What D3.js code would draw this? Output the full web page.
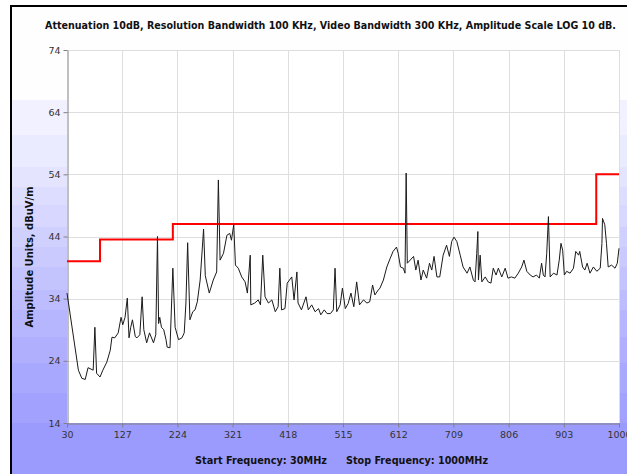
<!DOCTYPE html>
<html>
<head>
<meta charset="utf-8">
<script src="https://cdn.jsdelivr.net/npm/d3@7/dist/d3.min.js"></script>
<style>
  body { margin: 0; background: #fff; }
  svg { display: block; }
</style>
</head>
<body>
<svg id="chart" width="627" height="474"></svg>
<script>
var traceFreq = [30, 50, 56, 62, 67, 76, 79, 82, 88, 93, 100, 106, 109, 114, 120, 125, 128, 132, 136, 139,
  142, 145, 150, 153, 158, 162, 165, 170, 175, 182, 186, 189, 191, 193, 196, 200, 204, 206, 211, 216,
  220, 226, 232, 236, 239, 242, 246, 251, 255, 259, 264, 270, 273, 280, 287, 293, 296, 299, 305, 311,
  316, 319, 323, 326, 331, 337, 343, 347, 352, 353, 360, 366, 370, 374, 378, 384, 390, 396, 401, 404,
  407, 413, 417, 425, 429, 434, 436, 442, 450, 454, 460, 466, 472, 476, 482, 487, 493, 498, 501, 504,
  510, 514, 519, 524, 529, 534, 539, 544, 551, 557, 562, 567, 571, 577, 580, 586, 592, 598, 603, 609,
  612, 616, 621, 624, 626, 628, 633, 639, 643, 647, 652, 656, 662, 667, 671, 675, 680, 685, 691, 697,
  702, 706, 710, 715, 721, 726, 733, 738, 744, 747, 750, 752, 753, 756, 759, 765, 770, 775, 779, 784,
  788, 794, 800, 805, 811, 817, 823, 829, 833, 838, 844, 849, 855, 860, 864, 867, 870, 873, 876, 879,
  885, 891, 895, 898, 901, 904, 908, 914, 920, 924, 929, 931, 936, 940, 944, 949, 955, 961, 967, 970,
  971, 975, 978, 981, 987, 993, 997, 1000];
var traceLevel = [34.9, 22.5, 21.2, 21.0, 22.9, 22.5, 29.4, 22.0, 21.4, 22.5, 23.8, 25.7, 27.8, 27.7, 28.5, 31.0, 29.8, 31.0, 34.1, 27.7,
  29.4, 30.6, 27.9, 27.7, 28.2, 34.3, 29.0, 26.9, 28.5, 26.9, 28.2, 44.0, 30.0, 31.0, 29.4, 29.0, 27.4, 26.2, 26.1, 38.9,
  29.4, 27.4, 27.7, 28.5, 33.3, 43.0, 30.6, 31.9, 32.2, 33.5, 37.0, 45.2, 37.7, 34.9, 37.0, 38.3, 53.1, 40.2, 41.3, 44.2,
  44.5, 43.4, 45.9, 39.4, 38.9, 37.5, 36.7, 34.9, 41.0, 33.0, 33.3, 33.8, 33.0, 41.0, 34.3, 33.3, 33.8, 31.9, 32.7, 38.9,
  32.2, 32.4, 36.5, 37.5, 33.8, 38.3, 33.3, 32.2, 34.3, 32.2, 33.0, 31.9, 32.4, 31.4, 32.2, 31.6, 31.6, 32.2, 38.9, 31.9,
  33.0, 35.7, 32.4, 33.2, 34.9, 32.7, 36.7, 33.0, 33.8, 33.3, 33.5, 36.2, 34.6, 35.4, 35.7, 37.0, 39.1, 40.5, 41.6, 42.3,
  41.3, 39.1, 38.9, 38.1, 54.2, 39.7, 40.2, 40.8, 38.6, 40.2, 37.0, 38.6, 37.3, 39.7, 38.6, 40.8, 37.5, 37.5, 41.0, 42.6,
  40.8, 43.2, 43.9, 43.2, 41.0, 39.1, 38.1, 39.1, 37.0, 36.7, 41.3, 44.8, 37.0, 41.0, 36.7, 37.5, 36.7, 36.5, 38.9, 37.8,
  38.9, 37.5, 38.9, 37.3, 37.5, 37.3, 38.1, 39.1, 40.2, 38.4, 37.8, 37.5, 37.8, 37.3, 39.7, 37.8, 37.5, 41.3, 47.2, 37.5,
  38.1, 37.8, 40.2, 42.9, 41.8, 37.8, 38.4, 38.1, 38.9, 41.6, 41.0, 41.6, 39.1, 38.6, 39.7, 38.1, 39.1, 38.4, 38.9, 42.9,
  46.9, 45.9, 42.9, 39.1, 39.4, 38.9, 39.7, 42.1];

// limit line (step)
var limitFreq = [30, 88, 88, 216, 216, 960, 960, 1000];
var limitLevel = [40, 40, 43.5, 43.5, 46, 46, 54, 54];

var xTicks = [30, 127, 224, 321, 418, 515, 612, 709, 806, 903, 1000];
var yTicks = [14, 24, 34, 44, 54, 64, 74];

var titleText = "Attenuation 10dB, Resolution Bandwidth 100 KHz, Video Bandwidth 300 KHz, Amplitude Scale LOG 10 dB.";
var yLabel = "Amplitude Units, dBuV/m";
var startLabel = "Start Frequency: 30MHz";
var stopLabel = "Stop Frequency: 1000MHz";

var svg = d3.select("#chart");
var W = 627, H = 474;
var plotL = 67, plotR = 619, plotT = 50, plotB = 423;

// background bands
var defs = svg.append("defs");
var grad = defs.append("linearGradient").attr("id", "bg")
  .attr("gradientUnits", "userSpaceOnUse")
  .attr("x1", 0).attr("y1", 0).attr("x2", 0).attr("y2", H);
var bands = [100, 135, 167, 187, 205, 227, 247, 267, 290, 310, 337, 363, 393, 423];
grad.append("stop").attr("offset", 0).attr("stop-color", "#fefeff");
grad.append("stop").attr("offset", bands[0] / H).attr("stop-color", "#fefeff");
bands.forEach(function(b, i) {
  var t = (i + 1) / bands.length;
  var c = Math.round(248 - t * (248 - 155));
  var col = "rgb(" + c + "," + c + "," + Math.round(255 - t * 1) + ")";
  var end = i < bands.length - 1 ? bands[i + 1] : H;
  grad.append("stop").attr("offset", b / H).attr("stop-color", col);
  grad.append("stop").attr("offset", end / H).attr("stop-color", col);
});

svg.append("rect").attr("x", 11).attr("y", 6).attr("width", W - 11).attr("height", H - 6)
  .attr("fill", "url(#bg)");
svg.append("line").attr("x1", 11).attr("x2", 11).attr("y1", 5).attr("y2", H)
  .attr("stroke", "#000").attr("stroke-width", 2);
svg.append("line").attr("x1", 10).attr("x2", W).attr("y1", 6).attr("y2", 6)
  .attr("stroke", "#000").attr("stroke-width", 2);

var x = d3.scaleLinear().domain([30, 1000]).range([plotL, plotR]);
var y = d3.scaleLinear().domain([14, 74]).range([plotB, plotT]);

// plot area
svg.append("rect").attr("x", plotL).attr("y", plotT)
  .attr("width", plotR - plotL).attr("height", plotB - plotT).attr("fill", "#fff");

var grid = svg.append("g").attr("stroke", "#dedede").attr("stroke-width", 1);
grid.selectAll(".gx").data(xTicks.slice(1)).enter().append("line")
  .attr("x1", function(d) { return Math.round(x(d)) + 0.5; })
  .attr("x2", function(d) { return Math.round(x(d)) + 0.5; })
  .attr("y1", plotT).attr("y2", plotB);
grid.selectAll(".gy").data(yTicks.slice(1)).enter().append("line")
  .attr("x1", plotL).attr("x2", plotR)
  .attr("y1", function(d) { return Math.round(y(d)) + 0.5; })
  .attr("y2", function(d) { return Math.round(y(d)) + 0.5; });

var tickFont = "'DejaVu Sans', sans-serif";

var xAxis = svg.append("g").attr("transform", "translate(0," + (plotB + 0.5) + ")")
  .call(d3.axisBottom(x).tickValues(xTicks).tickFormat(d3.format("d"))
    .tickSize(4).tickSizeOuter(0).tickPadding(4));
var yAxis = svg.append("g").attr("transform", "translate(" + (plotL + 0.5) + ",0)")
  .call(d3.axisLeft(y).tickValues(yTicks).tickFormat(d3.format("d"))
    .tickSize(4).tickSizeOuter(0).tickPadding(3));

[xAxis, yAxis].forEach(function(a) {
  a.select(".domain").attr("stroke", "#808080");
  a.selectAll(".tick line").attr("stroke", "#808080");
  a.selectAll(".tick text").attr("fill", "#333").style("font-family", tickFont).style("font-size", "9.5px");
});

// limit line
var line = d3.line().x(function(d) { return x(d[0]); }).y(function(d) { return y(d[1]); });
svg.append("path")
  .datum(limitFreq.map(function(f, i) { return [f, limitLevel[i]]; }))
  .attr("d", line).attr("fill", "none").attr("stroke", "#ff0000").attr("stroke-width", 2);

// trace
svg.append("path")
  .datum(traceFreq.map(function(f, i) { return [f, traceLevel[i]]; }))
  .attr("d", line).attr("fill", "none").attr("stroke", "#1a1a1a").attr("stroke-width", 1);

var boldFont = "'DejaVu Sans', sans-serif";
svg.append("text").attr("x", 45).attr("y", 29)
  .attr("textLength", 571).attr("lengthAdjust", "spacingAndGlyphs")
  .style("font-family", boldFont).style("font-weight", "bold").style("font-size", "10.5px")
  .attr("fill", "#111").text(titleText);

svg.append("text").attr("transform", "translate(33,257) rotate(-90)")
  .attr("text-anchor", "middle").attr("textLength", 141).attr("lengthAdjust", "spacingAndGlyphs")
  .style("font-family", boldFont).style("font-weight", "bold").style("font-size", "10.5px")
  .attr("fill", "#111").text(yLabel);

svg.append("text").attr("x", 195).attr("y", 464)
  .attr("textLength", 132).attr("lengthAdjust", "spacingAndGlyphs")
  .style("font-family", boldFont).style("font-weight", "bold").style("font-size", "10.5px")
  .attr("fill", "#111").text(startLabel);
svg.append("text").attr("x", 346).attr("y", 464)
  .attr("textLength", 142).attr("lengthAdjust", "spacingAndGlyphs")
  .style("font-family", boldFont).style("font-weight", "bold").style("font-size", "10.5px")
  .attr("fill", "#111").text(stopLabel);
</script>
</body>
</html>
